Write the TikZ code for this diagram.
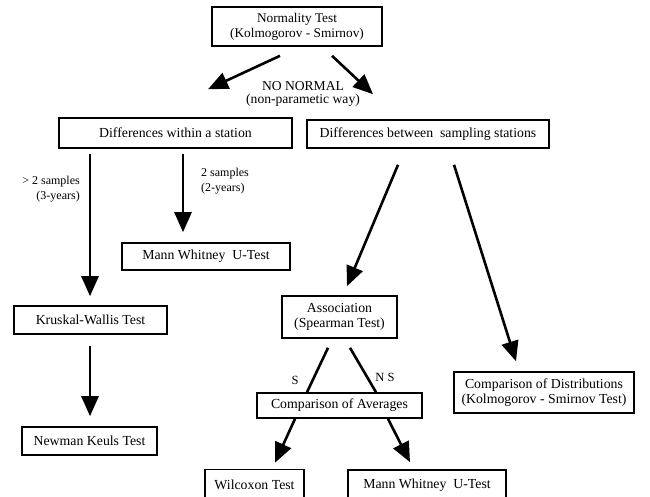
\documentclass[tikz,border=0pt]{standalone}
\usepackage{fontspec}
\setmainfont{Liberation Serif}
\usetikzlibrary{arrows.meta}
\begin{document}
\begin{tikzpicture}[x=1pt,y=-1pt,
  every node/.style={font=\fontsize{12}{14.5}\selectfont},
  box/.style={draw,line width=1.6pt,rectangle,inner sep=0pt,align=center,font=\fontsize{13.8}{15}\selectfont},
  arr/.style={line width=2.6pt,-{Triangle[width=17pt,length=20pt]}},
  plainline/.style={line width=2.6pt},
  lbl/.style={inner sep=0pt}]
\useasboundingbox (0,0) rectangle (650,496);
\clip (0,0) rectangle (650,496);
% boxes
\node[box,minimum width=170pt,minimum height=39pt,font=\fontsize{13.3}{15}\selectfont] (nor) at (297,26.5) {Normality Test\\(Kolmogorov - Smirnov)};
\node[box,minimum width=233pt,minimum height=30pt] (within) at (175.5,133) {Differences within a station};
\node[box,minimum width=242pt,minimum height=28pt] (between) at (428,134) {Differences between\ \ sampling stations};
\node[box,minimum width=168pt,minimum height=27pt] (mw1) at (206,256.5) {Mann Whitney\ \ U-Test};
\node[box,minimum width=153pt,minimum height=28pt] (kw) at (90.5,320) {Kruskal-Wallis Test};
\node[box,minimum width=135pt,minimum height=28pt] (nk) at (89.5,441) {Newman Keuls Test};
\node[box,minimum width=115pt,minimum height=42pt] (assoc) at (339.5,317) {Association\\(Spearman Test)};
\node[box,minimum width=180pt,minimum height=41pt] (cdist) at (544,392.5) {Comparison of Distributions\\(Kolmogorov - Smirnov Test)};
\node[box,minimum width=165pt,minimum height=25pt] (cavg) at (339.5,405.5) {Comparison of Averages};
\node[box,minimum width=99pt,minimum height=30pt] (wil) at (254.5,484.5) {Wilcoxon Test};
\node[box,minimum width=158pt,minimum height=30pt] (mw2) at (427,485) {Mann Whitney\ \ U-Test};
% labels
\node[lbl,align=center,font=\fontsize{13.6}{13}\selectfont] (nonorm) at (303,94) {NO NORMAL\\(non-parametic way)};
\node[lbl,align=right,anchor=east] (gt2) at (80,189) {> 2 samples\\(3-years)};
\node[lbl,align=left,anchor=west] (two) at (201,181) {2 samples\\(2-years)};
\node[lbl,font=\fontsize{12.5}{14}\selectfont] (s) at (295,380) {S};
\node[lbl,font=\fontsize{12.5}{14}\selectfont] (ns) at (385,377) {N S};
% connectors
\draw[arr] ([shift={(-17,9)}]nor.south) -- ([shift={(32.5,-28)}]within.north);
\draw[arr] ([shift={(35,9)}]nor.south) -- ([shift={(-55,-25)}]between.north);
\draw[arr] ([shift={(-85.5,5)}]within.south) -- ([shift={(-0.5,-9)}]kw.north);
\draw[arr] ([shift={(7.5,5)}]within.south) -- ([shift={(-23,-10)}]mw1.north);
\draw[arr] ([shift={(-0.5,11)}]kw.south) -- ([shift={(0.5,-10)}]nk.north);
\draw[arr] ([shift={(-30,16)}]between.south) -- ([shift={(7.5,-9)}]assoc.north);
\draw[arr] ([shift={(26,16)}]between.south) -- ([shift={(-28,-10)}]cdist.north);
\draw[plainline] ([shift={(-11.5,9)}]assoc.south) -- ([shift={(-32.5,0)}]cavg.north);
\draw[plainline] ([shift={(10.5,9)}]assoc.south) -- ([shift={(36.5,0)}]cavg.north);
\draw[arr] ([shift={(-44.5,0)}]cavg.south) -- ([shift={(20.5,-6)}]wil.north);
\draw[arr] ([shift={(48.5,0)}]cavg.south) -- ([shift={(-17,-7)}]mw2.north);
\end{tikzpicture}
\end{document}
